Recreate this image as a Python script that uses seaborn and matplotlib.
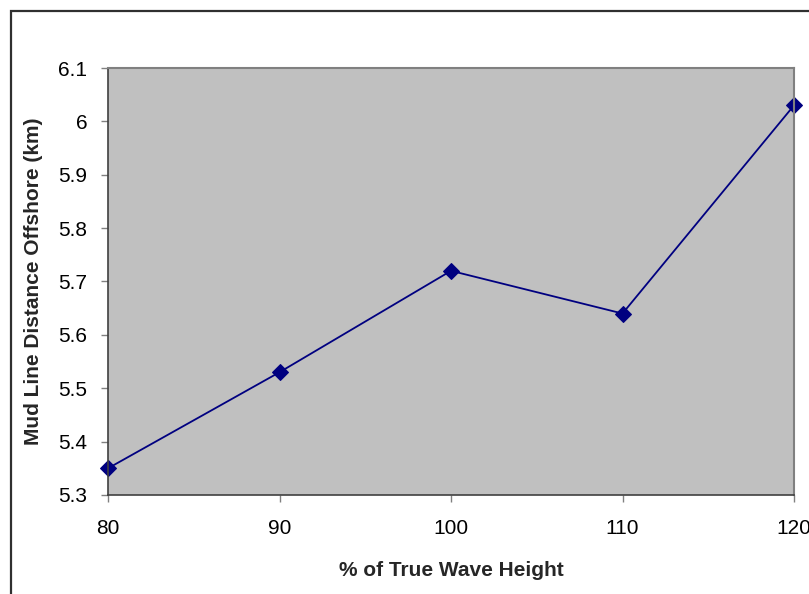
import matplotlib
matplotlib.use("Agg")
import matplotlib.pyplot as plt
import seaborn as sns
import pandas as pd
from matplotlib.patches import Rectangle

# valores
wave_height_pct = [80, 90, 100, 110, 120]
mud_line_km = [5.35, 5.53, 5.72, 5.64, 6.03]
y_ticks = [5.3, 5.4, 5.5, 5.6, 5.7, 5.8, 5.9, 6.0, 6.1]
y_tick_labels = ["5.3", "5.4", "5.5", "5.6", "5.7", "5.8", "5.9", "6", "6.1"]
x_ticks = [80, 90, 100, 110, 120]

df = pd.DataFrame({"pct": wave_height_pct, "dist": mud_line_km})

sns.set_style("white")
plt.rcParams["font.family"] = ["Liberation Sans", "DejaVu Sans"]

fig = plt.figure(figsize=(8.09, 5.94), dpi=100)
ax = fig.add_axes([108 / 809, 1 - 495 / 594, (794 - 108) / 809, (495 - 68) / 594])
ax.set_facecolor("#C0C0C0")

sns.lineplot(data=df, x="pct", y="dist", ax=ax, color="#000080", linewidth=1.3,
             marker="D", markersize=8, markeredgecolor="#000080")
for line in ax.lines:
    line.set_clip_on(False)

ax.set_xlim(80, 120)
ax.set_ylim(5.3, 6.1)
ax.set_xticks(x_ticks)
ax.set_xticklabels([str(v) for v in x_ticks])
ax.set_yticks(y_ticks)
ax.set_yticklabels(y_tick_labels)
ax.tick_params(axis="both", direction="out", length=5, width=1, color="#808080",
               labelsize=15, labelcolor="black", bottom=True, left=True)
ax.tick_params(axis="x", pad=12)
ax.tick_params(axis="y", pad=10)

for side in ["top", "right"]:
    ax.spines[side].set_color("#808080")
    ax.spines[side].set_linewidth(1.5)
for side in ["left", "bottom"]:
    ax.spines[side].set_color("#404040")
    ax.spines[side].set_linewidth(1.2)

ax.set_xlabel("% of True Wave Height", fontsize=15, fontweight="bold", labelpad=17)
ax.set_ylabel("Mud Line Distance Offshore (km)", fontsize=15, fontweight="bold", labelpad=11)

# borda externa do gráfico (estilo Excel)
fig.patches.append(Rectangle((10.5 / 809, -0.1), 1.2, 1 - 10.5 / 594 + 0.1,
                             transform=fig.transFigure, fill=False,
                             edgecolor="#303030", linewidth=1.6))

fig.savefig("out.png", dpi=100)
